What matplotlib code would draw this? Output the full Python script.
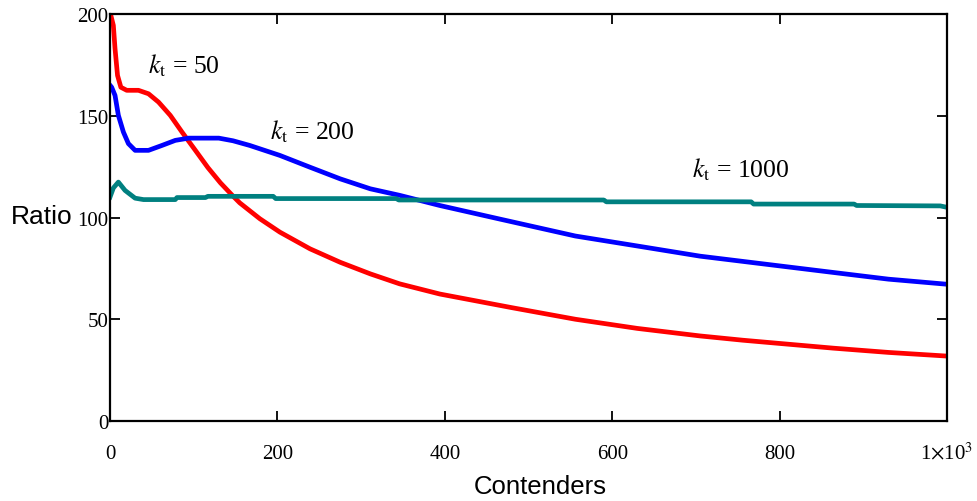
import numpy as np
import matplotlib
matplotlib.use("Agg")
import matplotlib.pyplot as plt

plt.rcParams["mathtext.fontset"] = "stix"

# k_t = 50
red_x = [0, 4, 6, 9, 13, 20, 34, 46, 58, 72, 86, 102, 117, 132, 147, 155, 179,
         203, 239, 275, 311, 346, 394, 480, 556, 630, 705, 756, 864, 930, 1000]
red_y = [201, 194.4, 183, 169.8, 164, 162.5, 162.5, 160.8, 156.7, 150.2, 142,
         133, 124.5, 117, 110.5, 107.2, 99.4, 92.8, 84.6, 78, 72.3, 67.4, 62.4,
         55.7, 50, 45.5, 41.8, 39.7, 35.8, 33.7, 31.9]

# k_t = 200
blue_x = [0, 2, 6, 10, 16, 22, 30, 46, 62, 78, 94, 130, 147, 167, 203, 239, 275,
          311, 346, 370, 394, 466, 556, 630, 705, 864, 930, 1000]
blue_y = [165, 164, 160, 150.2, 142, 136.3, 133, 133, 135.4, 137.9, 139, 139,
          137.7, 135.4, 130.5, 124.7, 119, 114.1, 110.9, 108.4, 105.9, 99.2,
          90.9, 86, 81, 73, 69.7, 67.2]

# k_t = 1000
teal_x = [0, 4, 10, 18, 30, 40, 78, 80, 114, 117, 195, 198, 342, 345, 590, 593,
          766, 769, 889, 892, 992, 1000]
teal_y = [110, 114.5, 117.4, 113.3, 109.5, 108.8, 108.8, 109.8, 109.8, 110.4,
          110.4, 109.3, 109.3, 108.6, 108.6, 107.7, 107.7, 106.6, 106.6, 105.9,
          105.7, 105]

xticks = [0, 200, 400, 600, 800, 1000]
xtick_labels = ["0", "200", "400", "600", "800", r"1$\times$10$^{3}$"]
yticks = [0, 50, 100, 150, 200]

fig = plt.figure(figsize=(9.77, 5.02), dpi=100)
ax = fig.add_axes([110 / 977, 80 / 502, 837 / 977, 407 / 502])

for xs, ys, c in ((red_x, red_y, "#ff0000"), (blue_x, blue_y, "#0000ff"),
                  (teal_x, teal_y, "#008080")):
    ax.plot(xs, ys, color=c, lw=3.4, solid_joinstyle="round", clip_on=True)

ax.set_xlim(0, 1000)
ax.set_ylim(0, 200)

serif = "Liberation Serif"
ax.set_xticks(xticks)
ax.set_xticklabels(xtick_labels, family=serif, fontsize=15)
for lab in ax.get_xticklabels():
    lab.set_verticalalignment("baseline")
ax.set_yticks(yticks)
ax.set_yticklabels([str(v) for v in yticks], family=serif, fontsize=15)
ax.tick_params(direction="in", length=7, width=1.3, top=True, right=True)
ax.tick_params(axis="x", pad=27)
ax.tick_params(axis="y", pad=1)
for s in ax.spines.values():
    s.set_linewidth(1.6)

ax.set_xlabel("Contenders", family="Liberation Sans", fontsize=18.5, va="center")
ax.xaxis.set_label_coords(0.514, -0.16)
ax.set_ylabel("Ratio", family="Liberation Sans", fontsize=19, rotation=0,
              ha="left", va="center")
ax.yaxis.set_label_coords(-0.119, 0.504)

ax.text(45, 175, r"$k_{\mathrm{t}}$ = 50", fontsize=18.5, family=serif,
        ha="left", va="center")
ax.text(191, 142.6, r"$k_{\mathrm{t}}$ = 200", fontsize=18.5, family=serif,
        ha="left", va="center")
ax.text(695, 123.8, r"$k_{\mathrm{t}}$ = 1000", fontsize=18.5, family=serif,
        ha="left", va="center")

fig.savefig("out.png", dpi=100)
